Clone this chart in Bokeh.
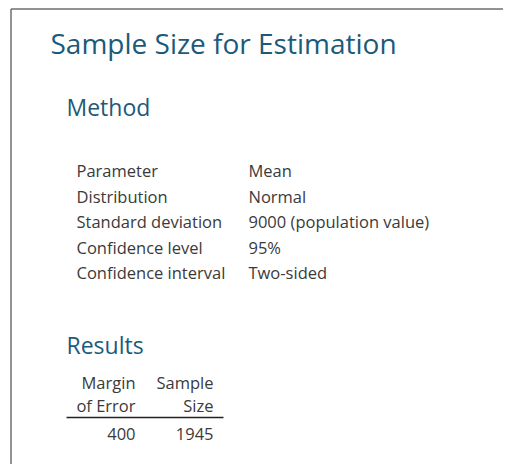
from bokeh.plotting import figure
from bokeh.models import Range1d, ColumnDataSource
from bokeh.core.properties import value
from bokeh.embed import file_html
from bokeh.resources import INLINE

title_text = "Sample Size for Estimation"
method_header = "Method"
method_labels = ["Parameter", "Distribution", "Standard deviation",
                 "Confidence level", "Confidence interval"]
method_values = ["Mean", "Normal", "9000 (population value)", "95%", "Two-sided"]
results_header = "Results"
col1_header = ["Margin", "of Error"]
col2_header = ["Sample", "Size"]
margin_of_error = [400]
sample_size = [1945]

W, H = 503, 464
FONT = "Open Sans"
TEAL = "#1b5a7a"
GREY = "#3a3a3a"

p = figure(width=W, height=H, output_backend="svg", toolbar_location=None,
           x_range=Range1d(0, W), y_range=Range1d(H, 0),
           min_border=0, outline_line_color=None)
p.axis.visible = False
p.grid.visible = False
p.background_fill_color = "white"

# frame
p.segment(x0=[10.5, 10.5], y0=[8.5, 8.5], x1=[10.5, W], y1=[H, 8.5],
          line_color="#6e6e6e", line_width=1.5)

p.text(x=[50], y=[42], text=[title_text], text_font=value(FONT),
       text_font_size="28px", text_color=TEAL, text_baseline="middle")
p.text(x=[66, 66], y=[106, 344], text=[method_header, results_header],
       text_font=value(FONT), text_font_size="23px", text_color=TEAL,
       text_baseline="middle")

row_y = [170 + 25.5 * i for i in range(len(method_labels))]
src = ColumnDataSource(dict(y=row_y, lab=method_labels, val=method_values))
p.text(x=76, y="y", text="lab", source=src, text_font=value(FONT),
       text_font_size="16.5px", text_color=GREY, text_baseline="middle")
p.text(x=248, y="y", text="val", source=src, text_font=value(FONT),
       text_font_size="16.5px", text_color=GREY, text_baseline="middle")

hy = [382, 405]
p.text(x=135, y=hy, text=col1_header, text_font=value(FONT), text_font_size="16.5px",
       text_color=GREY, text_baseline="middle", text_align="right")
p.text(x=213, y=hy, text=col2_header, text_font=value(FONT), text_font_size="16.5px",
       text_color=GREY, text_baseline="middle", text_align="right")
p.segment(x0=[66], y0=[417], x1=[223], y1=[417], line_color="#222222", line_width=1.5)
vy = [433 + 23 * i for i in range(len(margin_of_error))]
p.text(x=135, y=vy, text=[str(v) for v in margin_of_error], text_font=value(FONT),
       text_font_size="16.5px", text_color=GREY, text_baseline="middle", text_align="right")
p.text(x=213, y=vy, text=[str(v) for v in sample_size], text_font=value(FONT),
       text_font_size="16.5px", text_color=GREY, text_baseline="middle", text_align="right")

open("out.html", "w").write(file_html(p, INLINE))
